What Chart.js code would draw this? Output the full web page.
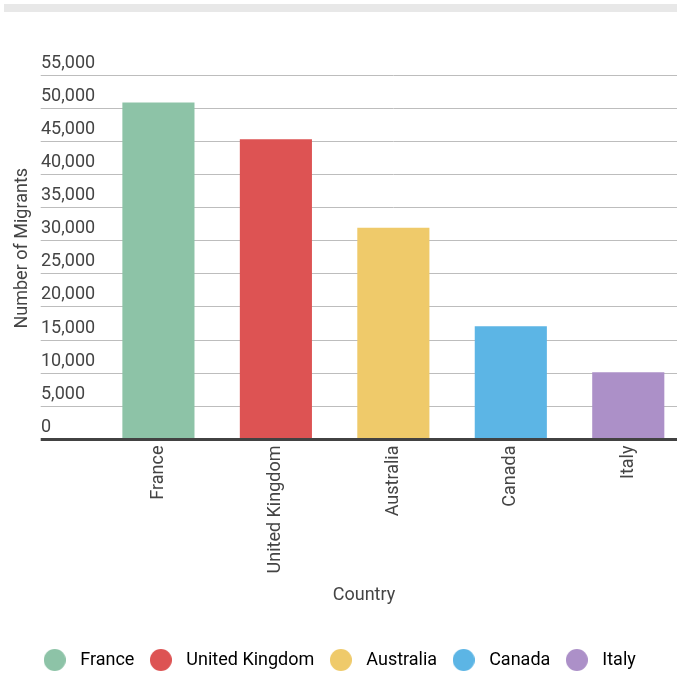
<!DOCTYPE html>
<html>
<head>
<meta charset="utf-8">
<script src="https://cdn.jsdelivr.net/npm/chart.js@4/dist/chart.umd.min.js"></script>
<style>
  html, body { margin: 0; padding: 0; background: #fff; }
  #wrap { position: relative; width: 677px; height: 673px; overflow: hidden; }
  #topbar { position: absolute; left: 4px; top: 4px; width: 673px; height: 8px; background: #e8e8e8; z-index: 1; }
  #chart { position: absolute; left: -13px; top: 0; }
</style>
</head>
<body>
<div id="wrap">
  <div id="topbar"></div>
  <canvas id="chart" width="700" height="679"></canvas>
</div>
<script>
const countries = ["France", "United Kingdom", "Australia", "Canada", "Italy"];
const migrants = [50850, 45300, 31950, 17100, 10150];
const barColors = ["#8dc3a7", "#dd5353", "#efca6a", "#5cb5e5", "#ac90c8"];
const yMin = 0;
const yMax = 55000;
const yStep = 5000;
const xTitle = "Country";
const yTitle = "Number of Migrants";

const textColor = "#444";
const gridColor = "#bdbdbd";
const fontFamily = "Roboto, 'Noto Sans', sans-serif";

Chart.defaults.font.family = fontFamily;
Chart.defaults.font.size = 18;
Chart.defaults.color = textColor;

// round legend markers, drawn once per colour
function dot(color) {
  const c = document.createElement("canvas");
  c.width = 22;
  c.height = 22;
  const g = c.getContext("2d");
  g.fillStyle = color;
  g.beginPath();
  g.arc(11, 11, 11, 0, Math.PI * 2);
  g.fill();
  return c;
}
const dots = barColors.map(dot);

// axis titles centred on the whole grid (labels included), not only the plot area
const axisTitles = {
  id: "axisTitles",
  afterDraw(chart) {
    const { ctx, chartArea, scales } = chart;
    ctx.save();
    ctx.font = "18px " + fontFamily;
    ctx.fillStyle = textColor;
    ctx.textAlign = "center";
    ctx.textBaseline = "middle";
    ctx.fillText(xTitle, (scales.y.left + chartArea.right) / 2, scales.x.bottom - 46);
    ctx.translate(35, (chartArea.top + chartArea.bottom) / 2 - 9);
    ctx.rotate(-Math.PI / 2);
    ctx.fillText(yTitle, 0, 0);
    ctx.restore();
  },
};

new Chart(document.getElementById("chart"), {
  type: "bar",
  data: {
    labels: countries,
    datasets: [
      {
        label: yTitle,
        data: migrants,
        backgroundColor: barColors,
        borderWidth: 0,
        categoryPercentage: 1,
        barPercentage: 0.614,
      },
    ],
  },
  plugins: [axisTitles],
  options: {
    responsive: false,
    animation: false,
    layout: { padding: { top: 75, left: 0, right: 0, bottom: 0 } },
    plugins: {
      tooltip: { enabled: false },
      legend: {
        position: "bottom",
        labels: {
          usePointStyle: true,
          pointStyleWidth: 33,
          padding: 10,
          color: textColor,
          generateLabels: () =>
            countries.map((name, i) => ({
              text: name,
              fillStyle: barColors[i],
              strokeStyle: barColors[i],
              lineWidth: 0,
              pointStyle: dots[i],
              hidden: false,
              index: i,
              datasetIndex: 0,
            })),
        },
      },
    },
    scales: {
      x: {
        grid: { display: false, drawTicks: false },
        border: { display: false },
        ticks: {
          autoSkip: false,
          maxRotation: 90,
          minRotation: 90,
          padding: 6,
          color: textColor,
        },
        afterFit: (s) => {
          s.height = 201.5;
        },
      },
      y: {
        min: yMin,
        max: yMax,
        border: { display: false },
        grid: {
          drawTicks: true,
          tickLength: 59,
          color: (c) => (c.tick && c.tick.value === 0 ? "#424242" : gridColor),
          lineWidth: (c) => (c.tick && c.tick.value === 0 ? 3 : 1),
        },
        ticks: {
          stepSize: yStep,
          crossAlign: "far",
          labelOffset: -12,
          padding: 0,
          color: textColor,
          callback: (v) => v.toLocaleString("en-US"),
        },
        afterFit: (s) => {
          s.width = 58.7;
        },
      },
      // empty strip on the left that holds the rotated y title
      yPad: {
        type: "linear",
        axis: "y",
        position: "left",
        weight: 10,
        grid: { display: false, drawTicks: false },
        border: { display: false },
        ticks: { display: false },
        afterFit: (s) => {
          s.width = 54;
        },
      },
    },
  },
});
</script>
</body>
</html>
